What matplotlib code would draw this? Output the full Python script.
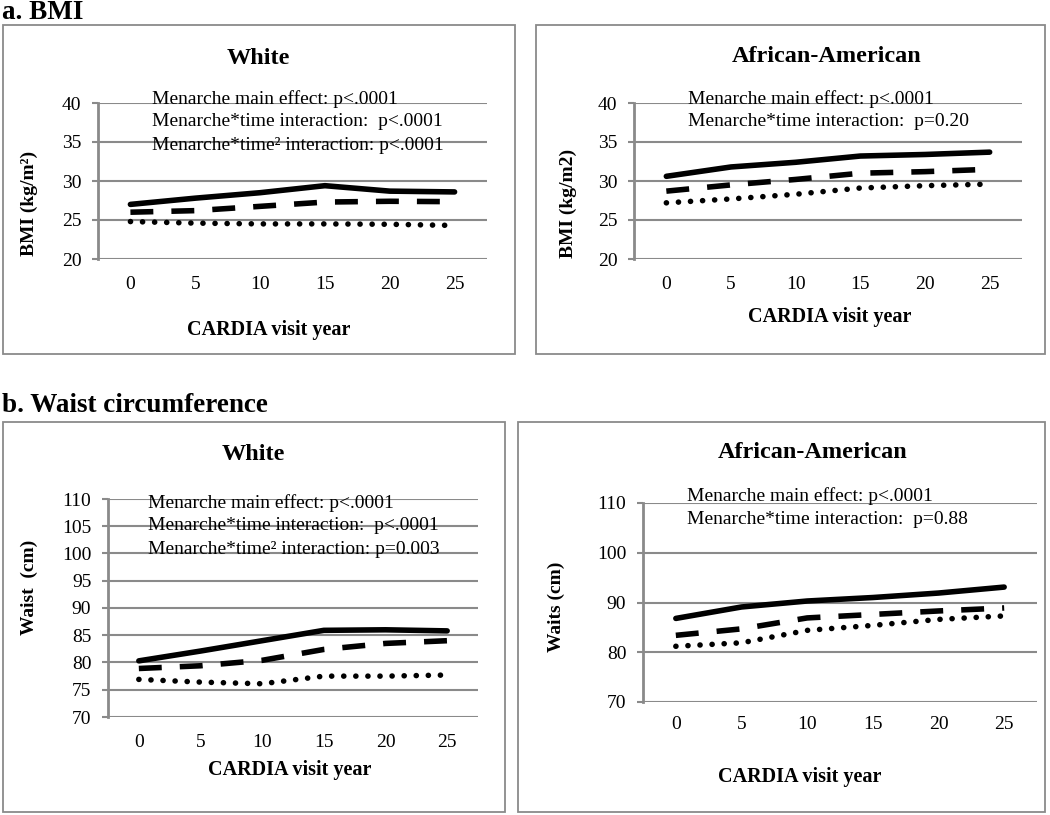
import matplotlib
matplotlib.use("Agg")
import matplotlib.pyplot as plt
from matplotlib.patches import Rectangle

# === Data ===
years = [0, 5, 10, 15, 20, 25]

bmi_white_solid = [27.0, 27.8, 28.5, 29.4, 28.7, 28.6]
bmi_white_dash = [26.0, 26.2, 26.75, 27.3, 27.4, 27.35]
bmi_white_dot = [24.8, 24.6, 24.5, 24.5, 24.45, 24.3]

bmi_aa_solid = [30.6, 31.8, 32.4, 33.2, 33.4, 33.7]
bmi_aa_dash = [28.7, 29.5, 30.2, 31.0, 31.2, 31.5]
bmi_aa_dot = [27.2, 27.7, 28.3, 29.1, 29.4, 29.6]

waist_white_solid = [80.3, 82.1, 84.0, 85.9, 86.0, 85.8]
waist_white_dash = [78.9, 79.4, 80.4, 82.4, 83.5, 84.0]
waist_white_dot = [76.9, 76.4, 76.1, 77.5, 77.5, 77.7]

waist_aa_solid = [86.8, 89.1, 90.3, 91.0, 91.9, 93.1]
waist_aa_dash = [83.4, 84.7, 86.9, 87.6, 88.3, 88.9]
waist_aa_dot = [81.2, 81.9, 84.4, 85.4, 86.6, 87.3]

W, H = 1050, 815
GRID = "#8a8a8a"
FONT = "Liberation Serif"

plt.rcParams["font.family"] = [FONT, "DejaVu Serif"]
plt.rcParams["lines.scale_dashes"] = False

fig = plt.figure(figsize=(W / 100, H / 100), dpi=100)


def px_text(x, y, s, **kw):
    """Place figure text using pixel coords measured from top-left."""
    fig.text(x / W, 1 - y / H, s, **kw)


def add_box(x0, y0, x1, y1):
    fig.patches.append(Rectangle((x0 / W, 1 - y1 / H), (x1 - x0) / W, (y1 - y0) / H,
                                 transform=fig.transFigure, fill=False,
                                 edgecolor=GRID, linewidth=1.3))


def panel(box, ax_px, ylim, yticks, series, title, title_xy, notes, notes_xy,
          ylabel, ylabel_xy, xlabel_xy, xpad):
    add_box(*box)
    x0, y0, x1, y1 = ax_px
    ax = fig.add_axes([x0 / W, 1 - y1 / H, (x1 - x0) / W, (y1 - y0) / H])
    solid, dash, dot = series
    ax.plot(years, solid, color="black", lw=4, solid_capstyle="round")
    ax.plot(years, dash, color="black", lw=4, dashes=(16.5, 13), dash_capstyle="butt")
    ax.plot(years, dot, color="black", lw=4, dashes=(0.1, 8.6), dash_capstyle="round")
    ax.set_xlim(-2.5, 27.5)
    ax.set_ylim(*ylim)
    ax.set_yticks(yticks)
    ax.set_xticks(years)
    ax.yaxis.grid(True, color=GRID, lw=1.5)
    ax.set_axisbelow(True)
    for side in ["top", "right", "bottom"]:
        ax.spines[side].set_visible(False)
    ax.spines["left"].set_color(GRID)
    ax.spines["left"].set_linewidth(2)
    ax.tick_params(axis="y", length=4, width=1.5, color=GRID, pad=8, labelsize=14)
    ax.tick_params(axis="x", length=0, pad=xpad, labelsize=14)
    ax.patch.set_alpha(0)

    px_text(*title_xy, title, ha="center", va="center", fontsize=17.5, fontweight="bold")
    lx, ly = notes_xy
    for i, line in enumerate(notes):
        px_text(lx, ly + i * 23, line, ha="left", va="center", fontsize=14)
    px_text(*ylabel_xy, ylabel, ha="center", va="center", fontsize=14,
            fontweight="bold", rotation=90)
    px_text(*xlabel_xy, "CARDIA visit year", ha="center", va="center",
            fontsize=14.5, fontweight="bold")
    return ax


# section headings
px_text(2, 0, "a. BMI", ha="left", va="top", fontsize=19.5, fontweight="bold")
px_text(2, 406, "b. Waist circumference", ha="left", va="center", fontsize=19.5,
        fontweight="bold")

notes_white_bmi = ["Menarche main effect: p<.0001",
                   "Menarche*time interaction:  p<.0001",
                   "Menarche*time\u00b2 interaction: p<.0001"]
notes_aa_bmi = ["Menarche main effect: p<.0001",
                "Menarche*time interaction:  p=0.20"]
notes_white_waist = ["Menarche main effect: p<.0001",
                     "Menarche*time interaction:  p<.0001",
                     "Menarche*time\u00b2 interaction: p=0.003"]
notes_aa_waist = ["Menarche main effect: p<.0001",
                  "Menarche*time interaction:  p=0.88"]

panel((3, 25, 515, 354), (98, 103, 487, 259), (20, 40), [20, 25, 30, 35, 40],
      (bmi_white_solid, bmi_white_dash, bmi_white_dot),
      "White", (258, 59), notes_white_bmi, (152, 99),
      "BMI (kg/m\u00b2)", (29, 203), (269, 330), 12)

panel((536, 25, 1045, 354), (634, 103, 1022, 259), (20, 40), [20, 25, 30, 35, 40],
      (bmi_aa_solid, bmi_aa_dash, bmi_aa_dot),
      "African-American", (827, 56), notes_aa_bmi, (688, 99),
      "BMI (kg/m2)", (568, 203), (830, 317), 12)

panel((3, 422, 505, 812), (108, 499, 478, 717), (70, 110), list(range(70, 111, 5)),
      (waist_white_solid, waist_white_dash, waist_white_dot),
      "White", (253, 455), notes_white_waist, (148, 503),
      "Waist  (cm)", (29, 587), (290, 770), 12)

panel((518, 422, 1045, 812), (643, 503, 1037, 702), (70, 110), [70, 80, 90, 100, 110],
      (waist_aa_solid, waist_aa_dash, waist_aa_dot),
      "African-American", (813, 452), notes_aa_waist, (687, 496),
      "Waits (cm)", (556, 607), (800, 777), 10)

fig.savefig("out.png", dpi=100)
